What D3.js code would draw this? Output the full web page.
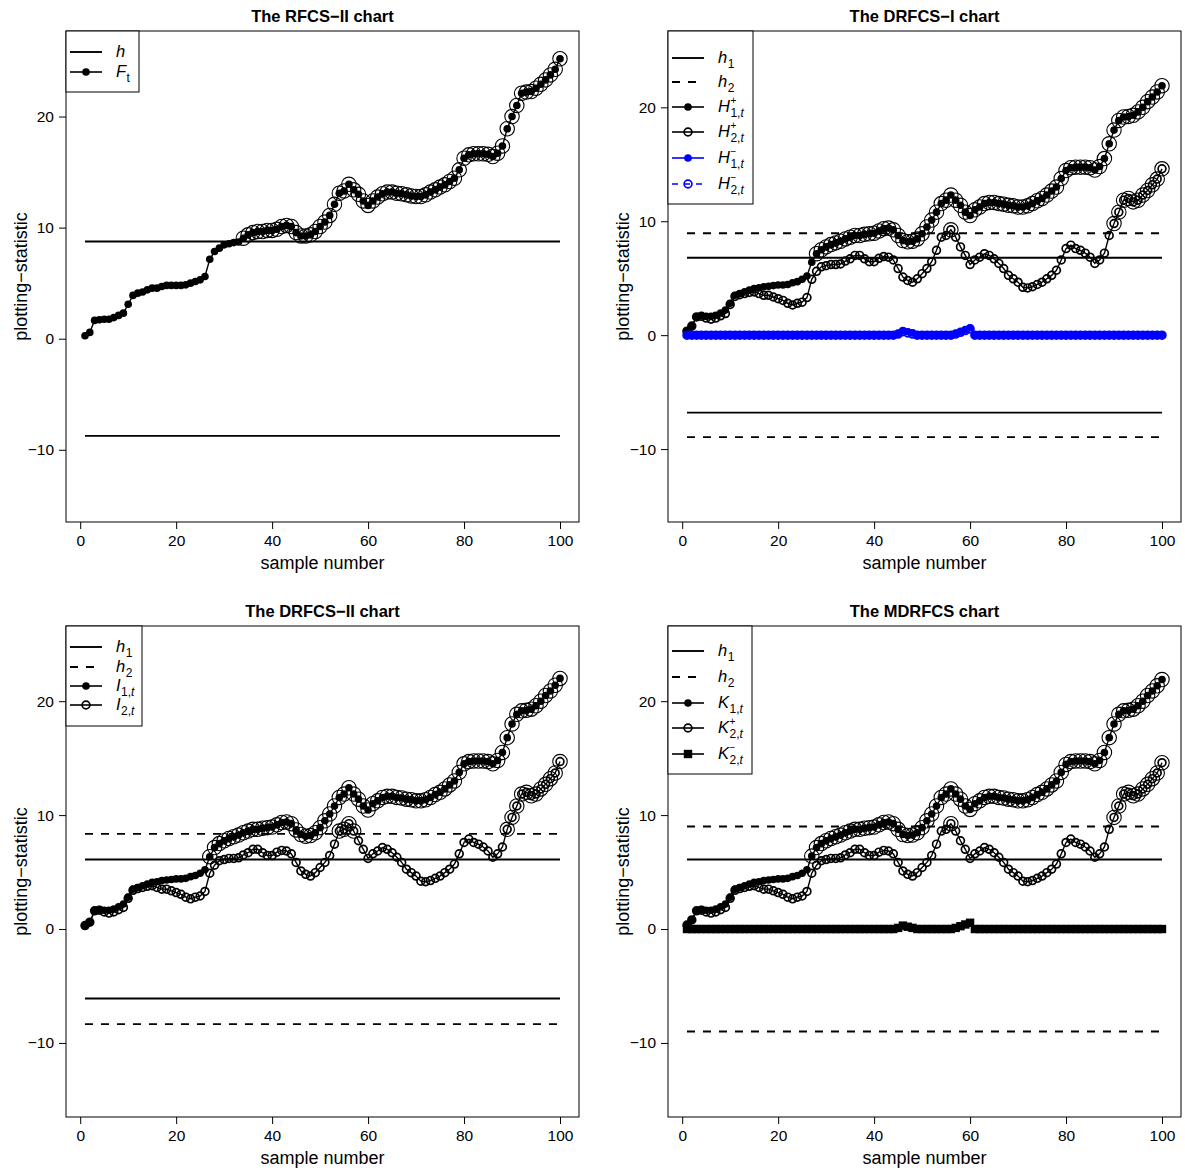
<!DOCTYPE html>
<html><head><meta charset="utf-8">
<script src="https://cdn.jsdelivr.net/npm/d3@7"></script>
<style>body{margin:0;background:#fff}svg{display:block}</style>
</head><body><svg id="c" width="1185" height="1172"></svg>
<script>
const sampleNumbers = d3.range(1, 101);
const xTicks = [0, 20, 40, 60, 80, 100];
const yTicks = [-10, 0, 10, 20];
const panelTitles = ["The RFCS\u2212II chart", "The DRFCS\u2212I chart", "The DRFCS\u2212II chart", "The MDRFCS chart"];

const F_t = [0.27,0.57,1.65,1.7,1.75,1.75,1.9,2.1,2.3,3.1,
  3.9,4.1,4.2,4.4,4.55,4.55,4.7,4.8,4.8,4.8,
  4.8,4.85,5.0,5.15,5.3,5.6,7.15,7.85,8.15,8.45,
  8.55,8.65,8.7,9.05,9.35,9.55,9.65,9.65,9.75,9.75,
  9.85,10.1,10.2,10.1,9.55,9.25,9.25,9.35,9.65,10.1,
  10.5,11.1,12.1,13.1,13.3,13.9,13.4,13.0,12.4,12.0,
  12.4,12.75,13.05,13.2,13.2,13.1,13.05,12.95,12.85,12.8,
  12.8,12.95,13.2,13.4,13.65,13.85,14.15,14.45,15.2,16.25,
  16.55,16.65,16.65,16.65,16.6,16.4,16.7,17.35,18.9,20.0,
  21.0,22.1,22.2,22.25,22.55,22.9,23.3,23.75,24.25,25.2];

const H1plus = [0.35,0.8,1.6,1.7,1.65,1.65,1.75,1.95,2.2,2.8,
  3.5,3.65,3.8,3.95,4.1,4.15,4.25,4.3,4.35,4.4,
  4.4,4.45,4.6,4.7,4.9,5.2,6.4,7.15,7.5,7.75,
  7.95,8.1,8.25,8.45,8.6,8.75,8.75,8.85,8.9,8.95,
  9.15,9.35,9.4,9.25,8.75,8.3,8.2,8.25,8.45,8.9,
  9.5,10.1,10.8,11.55,11.85,12.3,11.85,11.4,10.8,10.5,
  11.0,11.25,11.55,11.65,11.65,11.55,11.5,11.4,11.35,11.25,
  11.25,11.35,11.55,11.8,12.0,12.3,12.65,13.0,13.75,14.45,
  14.7,14.75,14.75,14.75,14.7,14.5,14.8,15.5,16.8,18.0,
  18.85,19.15,19.2,19.3,19.6,20.0,20.5,20.9,21.35,21.9];
const H2plus = [0.35,0.8,1.6,1.65,1.5,1.4,1.5,1.7,1.9,2.7,
  3.4,3.55,3.65,3.75,3.8,3.65,3.5,3.5,3.35,3.2,
  3.05,2.8,2.65,2.8,2.9,3.3,4.9,5.6,6.0,6.1,
  6.2,6.2,6.25,6.5,6.7,7.0,7.0,6.7,6.45,6.45,
  6.75,6.9,6.85,6.6,5.85,5.1,4.8,4.65,4.95,5.4,
  5.85,6.45,7.45,8.6,8.75,9.25,8.6,7.75,7.0,6.2,
  6.6,6.85,7.15,7.0,6.7,6.3,5.85,5.25,4.95,4.65,
  4.2,4.15,4.25,4.45,4.65,4.95,5.25,5.7,6.6,7.6,
  7.9,7.6,7.45,7.2,6.85,6.3,6.6,7.2,8.75,9.8,
  10.8,11.85,12.0,11.7,11.85,12.3,12.7,13.2,13.7,14.6];
const H1minus = [0,0,0,0,0,0,0,0,0,0, 0,0,0,0,0,0,0,0,0,0, 0,0,0,0,0,0,0,0,0,0, 0,0,0,0,0,0,0,0,0,0,
  0,0,0,0,0.15,0.4,0.3,0.2,0,0, 0,0,0,0,0,0,0.15,0.3,0.45,0.65,
  0,0,0,0,0,0,0,0,0,0, 0,0,0,0,0,0,0,0,0,0, 0,0,0,0,0,0,0,0,0,0, 0,0,0,0,0,0,0,0,0,0];
const H2minus = [0,0,0,0,0,0,0,0,0,0, 0,0,0,0,0,0,0,0,0,0, 0,0,0,0,0,0,0,0,0,0, 0,0,0,0,0,0,0,0,0,0,
  0,0,0,0,0.1,0.3,0.2,0.1,0,0, 0,0,0,0,0,0,0.1,0.25,0.4,0.55,
  0,0,0,0,0,0,0,0,0,0, 0,0,0,0,0,0,0,0,0,0, 0,0,0,0,0,0,0,0,0,0, 0,0,0,0,0,0,0,0,0,0];

const I1 = [0.3,0.6,1.6,1.7,1.65,1.65,1.75,1.95,2.2,2.8,
  3.5,3.65,3.8,3.95,4.1,4.15,4.25,4.3,4.35,4.4,
  4.4,4.45,4.6,4.7,4.9,5.2,6.35,7.15,7.5,7.75,
  7.95,8.1,8.25,8.45,8.6,8.75,8.75,8.85,8.9,8.95,
  9.15,9.35,9.4,9.25,8.7,8.3,8.15,8.2,8.45,8.9,
  9.5,10.1,10.8,11.55,11.85,12.4,11.85,11.4,10.8,10.45,
  11.0,11.25,11.55,11.65,11.65,11.55,11.5,11.4,11.35,11.25,
  11.25,11.35,11.55,11.8,12.0,12.3,12.65,13.0,13.75,14.5,
  14.7,14.75,14.75,14.75,14.7,14.5,14.8,15.5,16.8,18.0,
  18.85,19.15,19.2,19.3,19.6,20.0,20.5,20.9,21.4,22.0];
const I2 = [0.3,0.6,1.6,1.65,1.5,1.4,1.5,1.7,1.9,2.7,
  3.4,3.55,3.65,3.75,3.8,3.65,3.5,3.5,3.35,3.2,
  3.05,2.8,2.65,2.8,2.9,3.3,4.9,5.6,6.0,6.1,
  6.2,6.2,6.25,6.5,6.7,7.0,7.0,6.7,6.45,6.45,
  6.75,6.9,6.85,6.6,5.85,5.1,4.8,4.65,4.95,5.4,
  5.85,6.45,7.45,8.6,8.75,9.25,8.6,7.75,7.0,6.2,
  6.6,6.85,7.15,7.0,6.7,6.3,5.85,5.25,4.95,4.65,
  4.2,4.15,4.25,4.45,4.65,4.95,5.25,5.7,6.6,7.6,
  7.9,7.6,7.45,7.2,6.85,6.3,6.6,7.2,8.75,9.8,
  10.8,11.85,12.0,11.7,11.85,12.3,12.7,13.2,13.7,14.7];

const K1 = [0.35,0.8,1.6,1.7,1.65,1.65,1.75,1.95,2.2,2.8,
  3.5,3.65,3.8,3.95,4.1,4.15,4.25,4.3,4.35,4.4,
  4.4,4.45,4.6,4.7,4.9,5.2,6.4,7.15,7.5,7.75,
  7.95,8.1,8.25,8.45,8.6,8.75,8.75,8.85,8.9,8.95,
  9.15,9.35,9.4,9.25,8.75,8.3,8.2,8.25,8.45,8.9,
  9.5,10.1,10.8,11.55,11.85,12.3,11.85,11.4,10.8,10.5,
  11.0,11.25,11.55,11.65,11.65,11.55,11.5,11.4,11.35,11.25,
  11.25,11.35,11.55,11.8,12.0,12.3,12.65,13.0,13.75,14.45,
  14.7,14.75,14.75,14.75,14.7,14.5,14.8,15.5,16.8,18.0,
  18.85,19.15,19.2,19.3,19.6,20.0,20.5,20.9,21.35,21.9];
const K2plus = [0.35,0.8,1.6,1.65,1.5,1.4,1.5,1.7,1.9,2.7,
  3.4,3.55,3.65,3.75,3.8,3.65,3.5,3.5,3.35,3.2,
  3.05,2.8,2.65,2.8,2.9,3.3,4.9,5.6,6.0,6.1,
  6.2,6.2,6.25,6.5,6.7,7.0,7.0,6.7,6.45,6.45,
  6.75,6.9,6.85,6.6,5.85,5.1,4.8,4.65,4.95,5.4,
  5.85,6.45,7.45,8.6,8.75,9.25,8.6,7.75,7.0,6.2,
  6.6,6.85,7.15,7.0,6.7,6.3,5.85,5.25,4.95,4.65,
  4.2,4.15,4.25,4.45,4.65,4.95,5.25,5.7,6.6,7.6,
  7.9,7.6,7.45,7.2,6.85,6.3,6.6,7.2,8.75,9.8,
  10.8,11.85,12.0,11.7,11.85,12.3,12.7,13.2,13.7,14.6];
const K2minus = [0,0,0,0,0,0,0,0,0,0, 0,0,0,0,0,0,0,0,0,0, 0,0,0,0,0,0,0,0,0,0, 0,0,0,0,0,0,0,0,0,0,
  0,0,0,0,0.1,0.3,0.2,0.1,0,0, 0,0,0,0,0,0,0.1,0.25,0.4,0.55,
  0,0,0,0,0,0,0,0,0,0, 0,0,0,0,0,0,0,0,0,0, 0,0,0,0,0,0,0,0,0,0, 0,0,0,0,0,0,0,0,0,0];

const hRFCS = [8.75];
const hDRFCS1 = [6.8, 8.95];
const hDRFCS2 = [6.1, 8.35];
const hMDRFCS = [6.1, 9.0];

const BLUE = "#0000ff";
const FONT = "'Liberation Sans', Arial, Helvetica, sans-serif";
const svg = d3.select("#c").style("font-family", FONT);

const panels = [
  { title: panelTitles[0], box: [66, 31, 579, 522], ydom: [-16.5, 27.7],
    hLines: [{v: hRFCS[0], dash: false}, {v: -hRFCS[0], dash: false}],
    series: [{data: F_t, marker: "dot", color: "#000", limit: hRFCS[0]}],
    legend: {w: 73, h: 61, rows: [
      {y: 21, kind: "line", dash: false, label: {base: "h"}},
      {y: 41, kind: "dot", color: "#000", label: {base: "F", sub: [["t", false]]}}]}},
  { title: panelTitles[1], box: [668, 31, 1181, 522], ydom: [-16.4, 26.7],
    hLines: [{v: hDRFCS1[0], dash: false}, {v: -hDRFCS1[0], dash: false}, {v: hDRFCS1[1], dash: true}, {v: -hDRFCS1[1], dash: true}],
    series: [
      {data: H1plus, marker: "dot", color: "#000", limit: hDRFCS1[0]},
      {data: H2plus, marker: "open", color: "#000", limit: hDRFCS1[1]},
      {data: H1minus, marker: "dot", color: BLUE},
      {data: H2minus, marker: "open", color: BLUE, dashLine: true}],
    legend: {w: 85, h: 173, rows: [
      {y: 27, kind: "line", dash: false, label: {base: "h", sub: [["1", false]]}},
      {y: 51, kind: "line", dash: true, label: {base: "h", sub: [["2", false]]}},
      {y: 76, kind: "dot", color: "#000", label: {base: "H", sup: "+", sub: [["1,", false], ["t", true]]}},
      {y: 101, kind: "open", color: "#000", label: {base: "H", sup: "+", sub: [["2,", false], ["t", true]]}},
      {y: 127, kind: "dot", color: BLUE, label: {base: "H", sup: "\u2212", sub: [["1,", false], ["t", true]]}},
      {y: 153, kind: "open", color: BLUE, dashLine: true, label: {base: "H", sup: "\u2212", sub: [["2,", false], ["t", true]]}}]}},
  { title: panelTitles[2], box: [66, 626, 579, 1117], ydom: [-16.5, 26.6],
    hLines: [{v: hDRFCS2[0], dash: false}, {v: -hDRFCS2[0], dash: false}, {v: hDRFCS2[1], dash: true}, {v: -hDRFCS2[1], dash: true}],
    series: [
      {data: I1, marker: "dot", color: "#000", limit: hDRFCS2[0]},
      {data: I2, marker: "open", color: "#000", limit: hDRFCS2[1]}],
    legend: {w: 76, h: 100, rows: [
      {y: 21, kind: "line", dash: false, label: {base: "h", sub: [["1", false]]}},
      {y: 41, kind: "line", dash: true, label: {base: "h", sub: [["2", false]]}},
      {y: 60, kind: "dot", color: "#000", label: {base: "I", sub: [["1,", false], ["t", true]]}},
      {y: 79, kind: "open", color: "#000", label: {base: "I", sub: [["2,", false], ["t", true]]}}]}},
  { title: panelTitles[3], box: [668, 626, 1181, 1117], ydom: [-16.5, 26.6],
    hLines: [{v: hMDRFCS[0], dash: false}, {v: hMDRFCS[1], dash: true}, {v: -hMDRFCS[1], dash: true}],
    series: [
      {data: K1, marker: "dot", color: "#000", limit: hMDRFCS[0]},
      {data: K2plus, marker: "open", color: "#000", limit: hMDRFCS[1]},
      {data: K2minus, marker: "square", color: "#000"}],
    legend: {w: 84, h: 148, rows: [
      {y: 25, kind: "line", dash: false, label: {base: "h", sub: [["1", false]]}},
      {y: 51, kind: "line", dash: true, label: {base: "h", sub: [["2", false]]}},
      {y: 77, kind: "dot", color: "#000", label: {base: "K", sub: [["1,", false], ["t", true]]}},
      {y: 102, kind: "open", color: "#000", label: {base: "K", sup: "+", sub: [["2,", false], ["t", true]]}},
      {y: 128, kind: "square", color: "#000", label: {base: "K", sup: "\u2212", sub: [["2,", false], ["t", true]]}}]}}
];

function drawMarker(g, kind, cx, cy, color) {
  if (kind === "dot") {
    g.append("circle").attr("cx", cx).attr("cy", cy).attr("r", 3.8).attr("fill", color);
  } else if (kind === "open") {
    g.append("circle").attr("cx", cx).attr("cy", cy).attr("r", 3.9).attr("fill", "none").attr("stroke", color).attr("stroke-width", 1.7);
  } else if (kind === "square") {
    g.append("rect").attr("x", cx - 4.2).attr("y", cy - 4.2).attr("width", 8.4).attr("height", 8.4).attr("fill", color);
  }
}

function drawLabel(g, x, y, spec) {
  const base = g.append("text").attr("x", x).attr("y", y).attr("font-style", "italic").attr("font-size", 16.5).text(spec.base);
  const w = base.node().getComputedTextLength();
  const sx = x + w + 0.5;
  if (spec.sup) g.append("text").attr("x", sx).attr("y", y - 8.5).attr("font-size", 10).text(spec.sup);
  if (spec.sub) {
    const t = g.append("text").attr("x", sx).attr("y", y + (spec.sup ? 4.5 : 5)).attr("font-size", 12);
    spec.sub.forEach(([s, it]) => t.append("tspan").attr("font-style", it ? "italic" : "normal").text(s));
  }
}

panels.forEach(p => {
  const [x0, y0, x1, y1] = p.box;
  const x = d3.scaleLinear().domain([-2.96, 103.96]).range([x0, x1]);
  const y = d3.scaleLinear().domain(p.ydom).range([y1, y0]);
  const g = svg.append("g");

  // axes
  const xa = g.append("g").attr("transform", `translate(0,${y1})`)
    .call(d3.axisBottom(x).tickValues(xTicks).tickSize(7).tickPadding(6).tickFormat(d3.format("d")));
  const ya = g.append("g").attr("transform", `translate(${x0},0)`)
    .call(d3.axisLeft(y).tickValues(yTicks).tickSize(7).tickPadding(5).tickFormat(d => d < 0 ? "\u2212" + Math.abs(d) : d));
  [xa, ya].forEach(a => {
    a.select(".domain").remove();
    a.selectAll("line").attr("stroke", "#000").attr("stroke-width", 1);
    a.selectAll("text").attr("font-size", 15.5).attr("fill", "#000").attr("font-family", FONT);
  });

  // threshold lines
  p.hLines.forEach(h => {
    g.append("line").attr("x1", x(1)).attr("x2", x(100)).attr("y1", y(h.v)).attr("y2", y(h.v))
      .attr("stroke", "#000").attr("stroke-width", 1.9).attr("stroke-dasharray", h.dash ? "8,8" : null);
  });

  // series
  const line = d3.line().x((d, i) => x(sampleNumbers[i])).y(d => y(d));
  p.series.forEach(s => {
    g.append("path").attr("d", line(s.data)).attr("fill", "none").attr("stroke", s.color)
      .attr("stroke-width", 1.4).attr("stroke-dasharray", s.dashLine ? "4,4" : null);
    const mg = g.append("g");
    s.data.forEach((v, i) => drawMarker(mg, s.marker, x(sampleNumbers[i]), y(v), s.color));
  });
  // signal circles
  p.series.forEach(s => {
    if (s.limit === undefined) return;
    s.data.forEach((v, i) => {
      if (v > s.limit) g.append("circle").attr("cx", x(sampleNumbers[i])).attr("cy", y(v)).attr("r", 7.2)
        .attr("fill", "none").attr("stroke", "#000").attr("stroke-width", 1.1);
    });
  });

  // box
  g.append("rect").attr("x", x0).attr("y", y0).attr("width", x1 - x0).attr("height", y1 - y0)
    .attr("fill", "none").attr("stroke", "#000").attr("stroke-width", 1);

  // legend
  const L = p.legend;
  const lg = g.append("g");
  lg.append("rect").attr("x", x0).attr("y", y0).attr("width", L.w).attr("height", L.h)
    .attr("fill", "#fff").attr("stroke", "#000").attr("stroke-width", 1);
  L.rows.forEach(r => {
    const cy = y0 + r.y;
    if (r.kind === "line") {
      lg.append("line").attr("x1", x0 + 4).attr("x2", x0 + 36).attr("y1", cy).attr("y2", cy)
        .attr("stroke", "#000").attr("stroke-width", 1.9).attr("stroke-dasharray", r.dash ? "8,8" : null);
    } else {
      lg.append("line").attr("x1", x0 + 4).attr("x2", x0 + 36).attr("y1", cy).attr("y2", cy)
        .attr("stroke", r.color).attr("stroke-width", 1.6).attr("stroke-dasharray", r.dashLine ? "6,6" : null);
      drawMarker(lg, r.kind, x0 + 20, cy, r.color);
    }
    drawLabel(lg, x0 + 50, cy + 5, r.label);
  });

  // titles & labels
  g.append("text").attr("x", (x0 + x1) / 2).attr("y", y0 - 9).attr("text-anchor", "middle")
    .attr("font-weight", "bold").attr("font-size", 16.5).text(p.title);
  g.append("text").attr("x", (x0 + x1) / 2).attr("y", y1 + 47).attr("text-anchor", "middle")
    .attr("font-size", 18).text("sample number");
  g.append("text").attr("transform", `translate(${x0 - 39},${(y0 + y1) / 2}) rotate(-90)`).attr("text-anchor", "middle")
    .attr("font-size", 18).text("plotting\u2212statistic");
});
</script></body></html>
